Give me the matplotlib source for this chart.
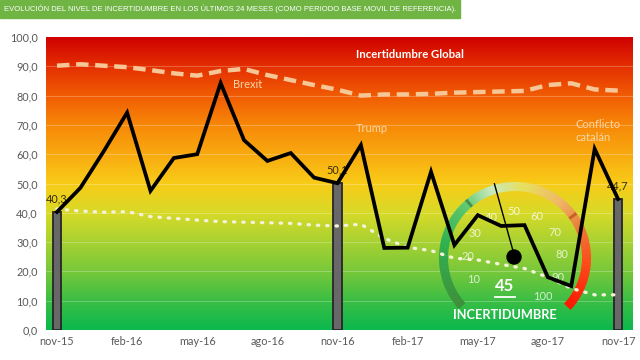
import numpy as np
import matplotlib
matplotlib.use('Agg')
import matplotlib.pyplot as plt
import matplotlib.transforms as mtransforms
from matplotlib.colors import LinearSegmentedColormap
from matplotlib.patches import Wedge, Rectangle, Circle

# ─── DATOS ──────────────────────────────────────────────────────────────────────
meses = ['nov-15', 'dic-15', 'ene-16', 'feb-16', 'mar-16', 'abr-16', 'may-16', 'jun-16',
         'jul-16', 'ago-16', 'sep-16', 'oct-16', 'nov-16', 'dic-16', 'ene-17', 'feb-17',
         'mar-17', 'abr-17', 'may-17', 'jun-17', 'jul-17', 'ago-17', 'sep-17', 'oct-17',
         'nov-17']
incertidumbre = [40.3, 48.5, 61.0, 74.2, 47.5, 58.7, 60.0, 84.3, 64.8, 57.7, 60.4, 52.0,
                 50.1, 63.1, 28.0, 28.1, 54.0, 29.0, 39.2, 35.5, 35.8, 18.0, 15.0, 61.8, 44.7]
inc_global = [90.2, 90.7, 90.2, 89.7, 88.7, 87.6, 86.8, 88.4, 89.1, 87.0, 85.3, 83.6,
              82.0, 80.0, 80.4, 80.4, 80.6, 81.0, 81.2, 81.4, 81.6, 83.6, 84.2, 82.1, 81.7]
media_base = [41.3, 40.6, 40.2, 40.4, 38.7, 38.1, 37.5, 37.0, 36.8, 36.6, 36.4, 35.8,
              35.5, 36.1, 31.3, 28.2, 27.1, 24.5, 23.9, 22.4, 21.0, 18.0, 14.2, 12.0, 12.0]
barras_idx = [0, 12, 24]
barras_lbl = ['40,3', '50,1', '44,7']
eventos = ['Brexit', 'Trump', 'Conflicto\ncatalán']
gauge_ticks = [10, 20, 30, 40, 50, 60, 70, 80, 90, 100]
gauge_valor = 45
yticks = np.arange(0, 101, 10)

TITULO = 'EVOLUCIÓN DEL NIVEL DE INCERTIDUMBRE EN LOS ÚLTIMOS 24 MESES (COMO PERIODO BASE MOVIL DE REFERENCIA).'
FONT = ['Lato', 'DejaVu Sans']
plt.rcParams['font.family'] = FONT

fig = plt.figure(figsize=(6.4, 3.6), dpi=100)
ax = fig.add_axes([46/640, 30/360, 587/640, 293/360])
px = mtransforms.Affine2D().scale(1/640, 1/360) + fig.transFigure  # coords en pixeles (y hacia arriba)

x = np.arange(len(meses))
xmin, xmax = -0.47, 24.64

# fondo degradado verde -> amarillo -> rojo
fondo = LinearSegmentedColormap.from_list('fondo', [
    (0.0, '#0cb84e'), (0.1, '#3cbe44'), (0.2, '#78c83a'), (0.3, '#a8d232'),
    (0.4, '#d8da28'), (0.5, '#f8cc18'), (0.6, '#f9aa10'), (0.7, '#f78808'),
    (0.8, '#f15c04'), (0.9, '#e43002'), (1.0, '#d00000')])
ax.imshow(np.linspace(0, 1, 256).reshape(-1, 1), extent=[xmin, xmax, 0, 100], origin='lower',
          aspect='auto', cmap=fondo, zorder=0)
for yv in yticks[1:-1]:
    ax.axhline(yv, color='white', lw=0.6, alpha=0.3, zorder=1)

# ─── Reloj de incertidumbre ───
cx, cy = 515, 102   # centro en pixeles
gauge_cmap = LinearSegmentedColormap.from_list('gauge', [
    (0.0, '#3f8f3a'), (0.2, '#2fb050'), (0.33, '#5cc870'), (0.42, '#c8eac0'),
    (0.52, '#e6e060'), (0.64, '#f0b868'), (0.74, '#ea7a38'), (0.85, '#ff4a1c'), (1.0, '#ff1400')])
a0, a1 = 222, -43
n = 120
angs = np.linspace(a0, a1, n + 1)
for i in range(n):
    ax.add_patch(Wedge((cx, cy), 76, angs[i+1], angs[i] + 0.3, width=9, transform=px,
                       color=gauge_cmap(i / n), lw=0, zorder=2))
for sep in [130, 36]:
    ax.add_patch(Wedge((cx, cy), 76, sep - 1.2, sep + 1.2, width=9, transform=px,
                       color='#2a6a2a' if sep > 90 else '#b04010', alpha=0.6, lw=0, zorder=2.1))
for v in gauge_ticks:
    ang = np.radians(207 - (v - 10) * 2.9)
    r = 47
    ax.text(cx + r*np.cos(ang), cy + r*np.sin(ang), str(v), transform=px, color='white',
            alpha=0.75, fontsize=8, ha='center', va='center', zorder=2.5)
ax.text(505, 360 - 286, str(gauge_valor), transform=px, color='white', fontsize=12,
        fontweight='bold', ha='center', va='center', zorder=2.5)
ax.plot([495, 515], [360 - 297, 360 - 297], transform=px, color='white', lw=1.3, zorder=2.5)
ax.text(505, 360 - 315, 'INCERTIDUMBRE', transform=px, color='white', fontsize=9.2,
        fontweight='bold', ha='center', va='center', zorder=2.5)

# ─── Barras grises ───
ax.bar([x[i] for i in barras_idx], [incertidumbre[i] for i in barras_idx], width=0.37,
       color='#686868', edgecolor='#262626', lw=1.3, zorder=3)

# ─── Series ───
ax.plot(x, media_base, color='#f4f2d8', lw=2.4, linestyle=(0, (0.4, 2.4)),
        dash_capstyle='round', zorder=4)
ax.plot(x, inc_global, color='#f7c696', lw=3.2, linestyle=(0, (2.8, 1.5)), zorder=4)
ax.plot(x, incertidumbre, color='black', lw=2.7, solid_joinstyle='miter', zorder=5)

# aguja del reloj
ang = np.radians(207 - (gauge_valor - 10) * 2.9)
ax.plot([cx, cx + 77*np.cos(ang)], [cy, cy + 77*np.sin(ang)], transform=px, color='black',
        lw=1.0, zorder=6)
ax.add_patch(Circle((cx - 1, cy + 1), 7, transform=px, color='black', zorder=6))

# ─── Etiquetas ───
for i, lbl in zip(barras_idx, barras_lbl):
    ax.text(x[i], incertidumbre[i] + 2.5, lbl, color='#3a2a00', fontsize=7.8,
            ha='center', va='bottom', zorder=4.5)
ax.text(410, 360 - 55, 'Incertidumbre Global', transform=px, color='white', fontsize=8.2,
        fontweight='bold', ha='center', va='center', zorder=7)
ax.text(248, 360 - 84, eventos[0], transform=px, color='#fad7a8', fontsize=8,
        ha='center', va='center', zorder=7)
ax.text(372, 360 - 129, eventos[1], transform=px, color='#fad7a8', fontsize=8,
        ha='center', va='center', zorder=7)
ax.text(575, 360 - 131, eventos[2], transform=px, color='#fad7a8', fontsize=8,
        ha='left', va='center', linespacing=1.3, zorder=7)

# ejes
ax.set_xlim(xmin, xmax)
ax.set_ylim(0, 100)
ax.set_yticks(yticks)
ax.set_yticklabels([f'{v:.1f}'.replace('.', ',') for v in yticks])
ax.set_xticks(x[::3])
ax.set_xticklabels(meses[::3])
ax.tick_params(length=0, labelsize=7.8, labelcolor='#595959', pad=4)
ax.tick_params(axis='y', pad=6)
for s in ax.spines.values():
    s.set_visible(False)

# banda del titulo
fig.patches.append(Rectangle((0, 342), 460, 18, transform=px, color='#70b444', zorder=0))
tit = fig.text(4/640, 1 - 9/360, TITULO, color='white', fontsize=7, ha='left', va='center',
               family=['Liberation Sans Narrow', 'Liberation Sans'])
fig.canvas.draw()
ancho = tit.get_window_extent().width
tit.set_fontsize(7 * 450 / ancho)

fig.savefig('out.png', dpi=100)
